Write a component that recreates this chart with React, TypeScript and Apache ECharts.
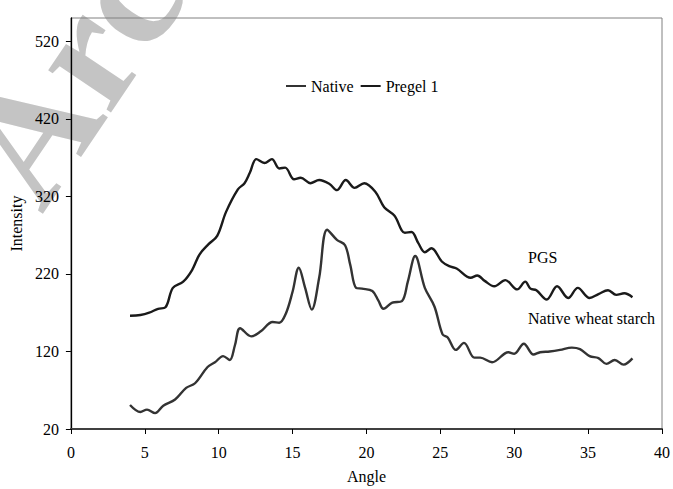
import React, { useEffect, useRef } from "react";
import * as echarts from "echarts";

// ---- data ----
const nativeAngle = [4.0, 4.7, 5.15, 5.7, 6.25, 7.05, 7.8, 8.4, 9.25, 9.75, 10.3, 10.75, 11.1, 11.45, 12.2, 12.85, 13.65, 14.1, 14.55, 15.0, 15.42, 15.85, 16.3, 16.8, 17.34, 18.0, 18.55, 18.9, 19.3, 19.7, 20.4, 20.8, 21.15, 21.75, 22.4, 22.8, 23.3, 23.95, 24.6, 25.15, 25.5, 26.05, 26.6, 27.3, 27.7, 28.5, 29.6, 30.0, 30.65, 31.3, 31.75, 32.4, 33.1, 33.9, 34.45, 35.1, 35.7, 36.24, 36.8, 37.4, 38.0];
const nativeIntensity = [51, 42, 45, 40.5, 50, 58, 73, 79, 100, 106, 114, 109, 128, 150, 139.5, 146, 158, 157, 169, 197, 228, 202, 174, 215, 277, 264, 257, 232, 202, 201, 198, 186, 175, 183, 185, 210, 243, 202, 178, 142, 138, 122, 131, 112, 112, 106, 119, 117, 130, 116, 119, 120, 122, 125, 123, 114, 111.5, 104, 109, 103, 111];

const pregelAngle = [4.0, 4.7, 5.3, 5.9, 6.4, 6.9, 7.6, 8.2, 8.7, 9.3, 9.9, 10.5, 11.3, 11.75, 12.1, 12.55, 13.1, 13.6, 14.1, 14.5, 15.1, 15.55, 16.2, 16.8, 17.5, 18.0, 18.6, 19.2, 19.85, 20.6, 21.2, 21.9, 22.6, 23.05, 23.5, 23.95, 24.4, 25.1, 25.6, 26.1, 27.05, 27.5, 28.0, 28.65, 29.4, 30.2, 30.75, 31.1, 31.5, 32.2, 32.9, 33.65, 34.3, 35.1, 35.7, 36.35, 36.9, 37.45, 38.0];
const pregelIntensity = [166, 167, 170, 175, 177, 202, 210, 225, 245, 258, 269, 300, 329, 337, 350, 368, 363, 368, 356, 357, 342, 344, 337, 341, 336, 328, 341, 331, 337, 326, 306, 295, 273, 274, 260, 248, 253, 236, 230, 227, 215, 218, 211, 204, 212, 200, 210, 201, 199, 187, 204, 189, 202, 189, 194, 199, 193, 195, 190];

const seriesNames = ["Native", "Pregel 1"];
const xTicks = { min: 0, max: 40, interval: 5 };
const yTicks = [20, 120, 220, 320, 420, 520];
const yMax = 550;
const curveLabels = ["PGS", "Native wheat starch"];
const watermarkText = "Arc";

const FONT = "Liberation Serif";

function pairs(xs: number[], ys: number[]) {
  return xs.map((x, i) => [x, ys[i]]);
}

export default function App() {
  const ref = useRef<HTMLDivElement>(null);
  useEffect(() => {
    if (!ref.current) return;
    const chart = echarts.init(ref.current, undefined, { renderer: "svg" });
    chart.setOption({
      animation: false,
      backgroundColor: "#ffffff",
      grid: {
        left: 70,
        right: 7,
        top: 18,
        bottom: 58,
        show: true,
        borderColor: "#808080",
        borderWidth: 1,
      },
      legend: {
        data: seriesNames,
        left: 281,
        top: 73,
        icon: "rect",
        itemWidth: 20,
        itemHeight: 2,
        itemGap: 7,
        textStyle: { fontFamily: FONT, fontSize: 16, color: "#000" },
      },
      xAxis: {
        type: "value",
        min: xTicks.min,
        max: xTicks.max,
        interval: xTicks.interval,
        name: "Angle",
        nameLocation: "middle",
        nameGap: 39,
        nameTextStyle: { fontFamily: FONT, fontSize: 16, color: "#000" },
        axisLine: { show: true, lineStyle: { color: "#404040", width: 2 } },
        axisTick: { show: true, length: 5, lineStyle: { color: "#000", width: 1 } },
        axisLabel: { fontFamily: FONT, fontSize: 16, color: "#000", margin: 15 },
        splitLine: { show: false },
      },
      yAxis: {
        type: "value",
        min: yTicks[0],
        max: yMax,
        interval: 100,
        name: "Intensity",
        nameLocation: "middle",
        nameGap: 42,
        nameTextStyle: { fontFamily: FONT, fontSize: 16, color: "#000" },
        axisLine: { show: true, lineStyle: { color: "#000", width: 1.3 } },
        axisTick: { show: true, length: 5, customValues: yTicks, lineStyle: { color: "#000" } },
        axisLabel: { fontFamily: FONT, fontSize: 16, color: "#000", margin: 12, customValues: yTicks },
        splitLine: { show: false },
      },
      graphic: [
        {
          type: "text",
          x: -4,
          y: 184,
          rotation: (56 * Math.PI) / 180,
          z: -10,
          silent: true,
          style: {
            text: watermarkText,
            fontFamily: FONT,
            fontSize: 165,
            fontWeight: "bold",
            fill: "#c4c4c4",
            align: "left",
            verticalAlign: "middle",
          },
        },
        {
          type: "text",
          x: 528,
          y: 257,
          style: { text: curveLabels[0], fontFamily: FONT, fontSize: 16, fill: "#000", align: "left", verticalAlign: "middle" },
        },
        {
          type: "text",
          x: 528,
          y: 318,
          style: { text: curveLabels[1], fontFamily: FONT, fontSize: 16, fill: "#000", align: "left", verticalAlign: "middle" },
        },
      ],
      series: [
        {
          name: seriesNames[0],
          type: "line",
          data: pairs(nativeAngle, nativeIntensity),
          smooth: 0.35,
          symbol: "none",
          lineStyle: { color: "#333333", width: 2.4 },
          itemStyle: { color: "#333333" },
        },
        {
          name: seriesNames[1],
          type: "line",
          data: pairs(pregelAngle, pregelIntensity),
          smooth: 0.35,
          symbol: "none",
          lineStyle: { color: "#1a1a1a", width: 2.4 },
          itemStyle: { color: "#1a1a1a" },
        },
      ],
    });
    return () => chart.dispose();
  }, []);
  return <div ref={ref} style={{ width: 673, height: 489, position: "absolute", left: 0, top: 0 }} />;
}
